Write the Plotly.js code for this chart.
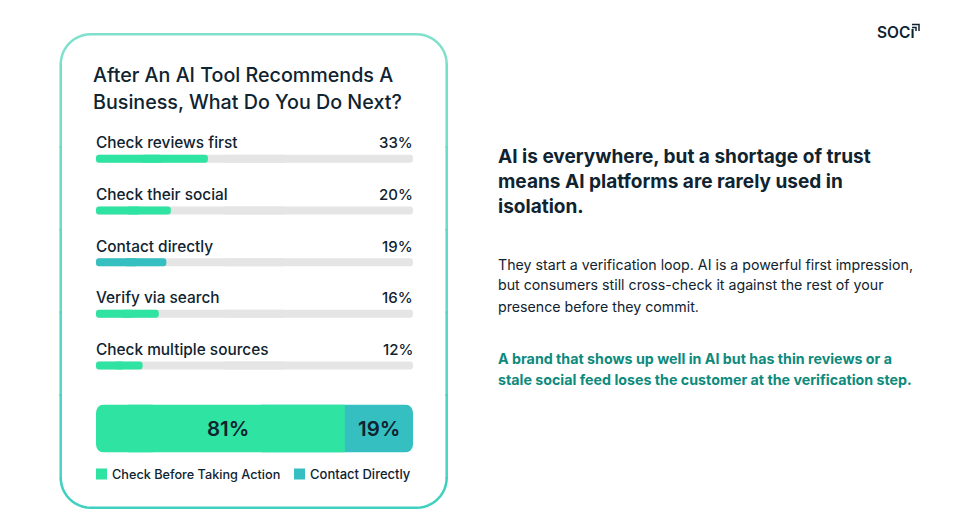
<!DOCTYPE html>
<html>
<head>
<meta charset="utf-8">
<script src="https://cdn.plot.ly/plotly-3.0.1.min.js"></script>
<style>
  html, body { margin: 0; padding: 0; background: #fff; }
  #chart { width: 954px; height: 519px; }
</style>
</head>
<body>
<div id="chart"></div>
<script>
const W = 954, H = 519;

const categories = ['Check reviews first', 'Check their social', 'Contact directly', 'Verify via search', 'Check multiple sources'];
const shares = [33, 20, 19, 16, 12];
// bar lengths, percent of the grey track
const barFill = [35.3, 23.6, 22.2, 19.8, 14.7];
const barColors = ['#2fe3a3', '#2fe3a3', '#35bfc0', '#2fe3a3', '#2fe3a3'];
const track = [100, 100, 100, 100, 100];

const summaryNames = ['Check Before Taking Action', 'Contact Directly'];
const summaryShares = [81, 19];
const summarySplit = 78.5;

const cardTitle = ['After An AI Tool Recommends A', 'Business, What Do You Do Next?'];
const headLines = ['AI is everywhere, but a shortage of trust', 'means AI platforms are rarely used in', 'isolation.'];
const bodyLines = ['They start a verification loop. AI is a powerful first impression,', 'but consumers still cross-check it against the rest of your', 'presence before they commit.'];
const noteLines = ['A brand that shows up well in AI but has thin reviews or a', 'stale social feed loses the customer at the verification step.'];

const FONT = 'Inter, "Noto Sans", sans-serif';
const INK = '#0f2330';
const px = x => x / W;
const py = y => 1 - y / H;

function textAt(text, x, y, size, color, weight, anchor) {
  return {
    text: text, xref: 'paper', yref: 'paper', x: px(x - 2), y: py(y),
    xanchor: anchor || 'left', yanchor: 'middle', showarrow: false,
    font: { family: FONT, size: size, color: color, weight: weight || 400 }
  };
}

// plotly only rounds the far end of a bar, so each pill is two overlapping bars
// running outward from inside the pill
function pillBars(lengths, color, opts) {
  const left = Object.assign({ type: 'bar', orientation: 'h', y: categories,
    base: lengths.map(v => v * 0.6), x: lengths.map(v => -v * 0.6),
    marker: { color: color, cornerradius: 4 } }, opts);
  const right = Object.assign({ type: 'bar', orientation: 'h', y: categories,
    base: lengths.map(v => v * 0.4), x: lengths.map(v => v * 0.6),
    marker: { color: color, cornerradius: 4 } }, opts);
  return [left, right];
}

let traces = [
  ...pillBars(track, '#e5e5e5', { hoverinfo: 'skip' }),
  ...pillBars(barFill, barColors, {}),
  // summary bar: teal end underneath, then green rounded start and square-ended body
  { type: 'bar', orientation: 'h', y: ['all'], base: [50], x: [50], width: [1], xaxis: 'x2', yaxis: 'y2', name: summaryNames[1], marker: { color: '#35bfc0', cornerradius: 8 } },
  { type: 'bar', orientation: 'h', y: ['all'], base: [20], x: [-20], width: [1], xaxis: 'x2', yaxis: 'y2', name: summaryNames[0], marker: { color: '#2fe3a3', cornerradius: 8 } },
  { type: 'bar', orientation: 'h', y: ['all'], base: [10], x: [summarySplit - 10], width: [1], xaxis: 'x2', yaxis: 'y2', name: summaryNames[0], marker: { color: '#2fe3a3' } }
];

let annotations = [];
cardTitle.forEach((t, i) => annotations.push(textAt(t, 93, 75 + i * 27, 19.7, INK, 500)));
headLines.forEach((t, i) => annotations.push(textAt(t, 498, 156 + i * 25, 19.05, INK, 700)));
bodyLines.forEach((t, i) => annotations.push(textAt(t, 498, 264 + i * 21, 14.2, INK, 400)));
noteLines.forEach((t, i) => annotations.push(textAt(t, 498, 358 + i * 21, 14.25, '#0d8a7c', 700)));

categories.forEach((c, i) => {
  annotations.push({ text: c, xref: 'x', yref: 'y', x: 0, y: c, xanchor: 'left', yanchor: 'middle', xshift: -2, yshift: 16, showarrow: false,
    font: { family: FONT, size: 15.4, color: INK, weight: 500 } });
  annotations.push({ text: shares[i] + '%', xref: 'x', yref: 'y', x: 100, y: c, xanchor: 'right', yanchor: 'middle', xshift: 2, yshift: 16, showarrow: false,
    font: { family: FONT, size: 15, color: INK, weight: 500 } });
});

annotations.push({ text: summaryShares[0] + '%', xref: 'x2', yref: 'y2', x: summarySplit / 2, y: 'all', xshift: 8, showarrow: false,
  font: { family: FONT, size: 20.5, color: INK, weight: 600 } });
annotations.push({ text: summaryShares[1] + '%', xref: 'x2', yref: 'y2', x: (100 + summarySplit) / 2, y: 'all', showarrow: false,
  font: { family: FONT, size: 20.5, color: INK, weight: 600 } });

annotations.push(textAt(summaryNames[0], 112, 474, 12.7, INK, 500));
annotations.push(textAt(summaryNames[1], 310, 474, 13, INK, 500));
annotations.push(textAt('SOCı', 877, 32, 15.5, INK, 600));

// card outline in page pixels, stepped colours stand in for the gradient border
function pagePath(points) {
  return points.map((p, i) => (i ? 'L ' : 'M ') + px(p[0]) + ',' + py(p[1])).join(' ');
}
function arcPoints(cx, cy, r, from, to) {
  const pts = [];
  for (let i = 0; i <= 12; i++) {
    const a = (from + (to - from) * i / 12) * Math.PI / 180;
    pts.push([cx + r * Math.cos(a), cy + r * Math.sin(a)]);
  }
  return pts;
}
const cardL = 60.7, cardR = 446.7, cardT = 34.3, cardB = 507.7, cardRad = 30;
const stepColors = ['#7fe1cb', '#74dfc9', '#69dcc8', '#5ed9c6', '#53d6c4', '#48d3c2', '#40d0c0'];
const topY = cardT + cardRad, botY = cardB - cardRad;
const stepH = (botY - topY) / (stepColors.length - 2);

let shapes = [];
function outline(points, color) {
  shapes.push({ type: 'path', xref: 'paper', yref: 'paper', path: pagePath(points), line: { color: color, width: 2.5 }, layer: 'below' });
}
for (let i = 0; i < stepColors.length - 2; i++) {
  const y0 = topY + i * stepH - 1, y1 = topY + (i + 1) * stepH + 1;
  outline([[cardL, y0], [cardL, y1]], stepColors[i + 1]);
  outline([[cardR, y0], [cardR, y1]], stepColors[i + 1]);
}
outline(arcPoints(cardL + cardRad, topY, cardRad, 180, 270).concat(arcPoints(cardR - cardRad, topY, cardRad, 270, 360)), stepColors[0]);
outline(arcPoints(cardL + cardRad, botY, cardRad, 180, 90).concat(arcPoints(cardR - cardRad, botY, cardRad, 90, 0)), stepColors[stepColors.length - 1]);

// legend swatches
shapes.push({ type: 'rect', xref: 'paper', yref: 'paper', x0: px(96), x1: px(107), y0: py(479.5), y1: py(468.5), fillcolor: '#2fe3a3', line: { width: 0 } });
shapes.push({ type: 'rect', xref: 'paper', yref: 'paper', x0: px(294), x1: px(305), y0: py(479.5), y1: py(468.5), fillcolor: '#35bfc0', line: { width: 0 } });

// logo corner mark
[[[912, 24.5], [919, 24.5], [919, 31]], [[912, 27.5], [916, 27.5], [916, 31]]].forEach(p => {
  shapes.push({ type: 'path', xref: 'paper', yref: 'paper', path: pagePath(p), line: { color: INK, width: 1.5 } });
});

const layout = {
  width: W, height: H,
  margin: { l: 0, r: 0, t: 0, b: 0 },
  paper_bgcolor: '#ffffff', plot_bgcolor: 'rgba(0,0,0,0)',
  showlegend: false,
  barmode: 'overlay',
  bargap: 1 - 8 / 52,
  xaxis: { domain: [px(96), px(413)], range: [0, 100], visible: false, fixedrange: true },
  yaxis: { domain: [py(393), py(133)], type: 'category', categoryorder: 'array', categoryarray: categories, autorange: 'reversed', visible: false, fixedrange: true },
  xaxis2: { domain: [px(96), px(413)], range: [0, 100], visible: false, anchor: 'y2', fixedrange: true },
  yaxis2: { domain: [py(452.5), py(404.5)], type: 'category', visible: false, anchor: 'x2', fixedrange: true },
  annotations: annotations,
  shapes: shapes
};

Plotly.newPlot('chart', traces, layout, { displayModeBar: false });
</script>
</body>
</html>
